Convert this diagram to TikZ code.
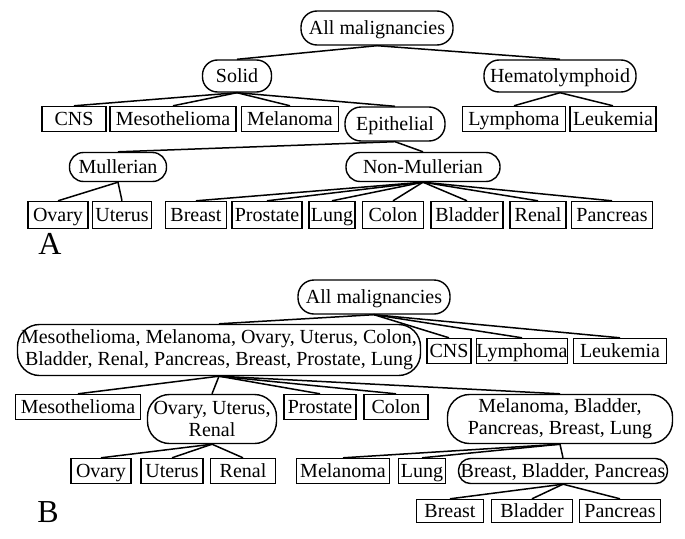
\documentclass[tikz,border=0pt]{standalone}
\usepackage{fontspec}
\setmainfont{Liberation Serif}
\begin{document}
\begin{tikzpicture}[x=1pt,y=-1pt,
  base/.style={draw, line width=1.4pt, inner sep=0pt, minimum height=25pt, font=\fontsize{20}{22}\selectfont, align=center},
  leaf/.style={base, text height=15pt, text depth=3pt},
  grp/.style={leaf, rounded corners=12pt},
  multi/.style={base, rounded corners=22pt, minimum height=49pt},
  link/.style={line width=1.5pt},
  panel/.style={font=\fontsize{32}{34}\selectfont}]
\useasboundingbox (0,0) rectangle (685,538);
% ---------- Panel A ----------
\node[grp, minimum width=152, minimum height=34, rounded corners=16pt] (allA) at (377,28) {All malignancies};
\node[grp, minimum width=69, minimum height=32, rounded corners=15pt] (solid) at (237,76) {Solid};
\node[grp, minimum width=152, minimum height=32, rounded corners=15pt] (hema) at (560,76) {Hematolymphoid};
\node[leaf, minimum width=64] (cnsA) at (74,119) {CNS};
\node[leaf, minimum width=126] (mesoA) at (173,119) {Mesothelioma};
\node[leaf, minimum width=97] (melA) at (290,119) {Melanoma};
\node[grp, minimum width=100, minimum height=34, rounded corners=16pt] (epi) at (395,124) {Epithelial};
\node[leaf, minimum width=103] (lymA) at (514,119) {Lymphoma};
\node[leaf, minimum width=86] (leuA) at (613,119) {Leukemia};
\node[grp, minimum width=97, minimum height=29, rounded corners=14pt] (mull) at (118,167) {Mullerian};
\node[grp, minimum width=154, minimum height=29, rounded corners=14pt] (nonm) at (423,167) {Non-Mullerian};
\node[leaf, minimum width=60, minimum height=27] (ovA) at (58,215) {Ovary};
\node[leaf, minimum width=59, minimum height=27] (utA) at (122,215) {Uterus};
\node[leaf, minimum width=61, minimum height=27] (brA) at (196,215) {Breast};
\node[leaf, minimum width=70, minimum height=27] (prA) at (267,215) {Prostate};
\node[leaf, minimum width=46, minimum height=27] (luA) at (332,215) {Lung};
\node[leaf, minimum width=61, minimum height=27] (coA) at (393,215) {Colon};
\node[leaf, minimum width=72, minimum height=27] (blA) at (467,215) {Bladder};
\node[leaf, minimum width=56, minimum height=27] (reA) at (538,215) {Renal};
\node[leaf, minimum width=81, minimum height=27] (paA) at (612,215) {Pancreas};
\node[panel] (labA) at (50,244) {A};
\foreach \c in {solid,hema} \draw[link] (allA.south) -- (\c.north);
\foreach \c in {cnsA,mesoA,melA,epi} \draw[link] (solid.south) -- (\c.north);
\foreach \c in {lymA,leuA} \draw[link] (hema.south) -- (\c.north);
\foreach \c in {mull,nonm} \draw[link] (epi.south) -- (\c.north);
\foreach \c in {ovA,utA} \draw[link] (mull.south) -- (\c.north);
\foreach \c in {brA,prA,luA,coA,blA,reA,paA} \draw[link] (nonm.south) -- (\c.north);
% ---------- Panel B ----------
\node[grp, minimum width=152, minimum height=34, rounded corners=16pt] (allB) at (374,297) {All malignancies};
\node[multi, minimum width=403, minimum height=51] (big) at (219,350) {Mesothelioma, Melanoma, Ovary, Uterus, Colon,\\Bladder, Renal, Pancreas, Breast, Prostate, Lung};
\node[leaf, minimum width=44] (cnsB) at (449,351) {CNS};
\node[leaf, minimum width=91] (lymB) at (522,351) {Lymphoma};
\node[leaf, minimum width=93] (leuB) at (620,351) {Leukemia};
\node[leaf, minimum width=125] (mesoB) at (78,407) {Mesothelioma};
\node[multi, minimum width=129] (our) at (212,419) {Ovary, Uterus,\\Renal};
\node[leaf, minimum width=72] (prB) at (320,407) {Prostate};
\node[leaf, minimum width=64] (coB) at (396,407) {Colon};
\node[multi, minimum width=225] (melg) at (560,419) {Melanoma, Bladder,\\Pancreas, Breast, Lung};
\node[leaf, minimum width=60] (ovB) at (101,471) {Ovary};
\node[leaf, minimum width=62] (utB) at (172,471) {Uterus};
\node[leaf, minimum width=65] (reB) at (243,471) {Renal};
\node[leaf, minimum width=93] (melB) at (343,471) {Melanoma};
\node[leaf, minimum width=47] (luB) at (422,471) {Lung};
\node[grp, minimum width=209, rounded corners=12pt] (bbp) at (563,471) {Breast, Bladder, Pancreas};
\node[leaf, minimum width=67, minimum height=23] (brB) at (450,511) {Breast};
\node[leaf, minimum width=81, minimum height=23] (blB) at (532,511) {Bladder};
\node[leaf, minimum width=81, minimum height=23] (paB) at (620,511) {Pancreas};
\node[panel] (labB) at (48,512) {B};
\foreach \c in {big,cnsB,lymB,leuB} \draw[link] (allB.south) -- (\c.north);
\foreach \c in {mesoB,our,prB,coB,melg} \draw[link] (big.south) -- (\c.north);
\foreach \c in {ovB,utB,reB} \draw[link] (our.south) -- (\c.north);
\foreach \c in {melB,luB,bbp} \draw[link] (melg.south) -- (\c.north);
\foreach \c in {brB,blB,paB} \draw[link] (bbp.south) -- (\c.north);
\end{tikzpicture}
\end{document}
